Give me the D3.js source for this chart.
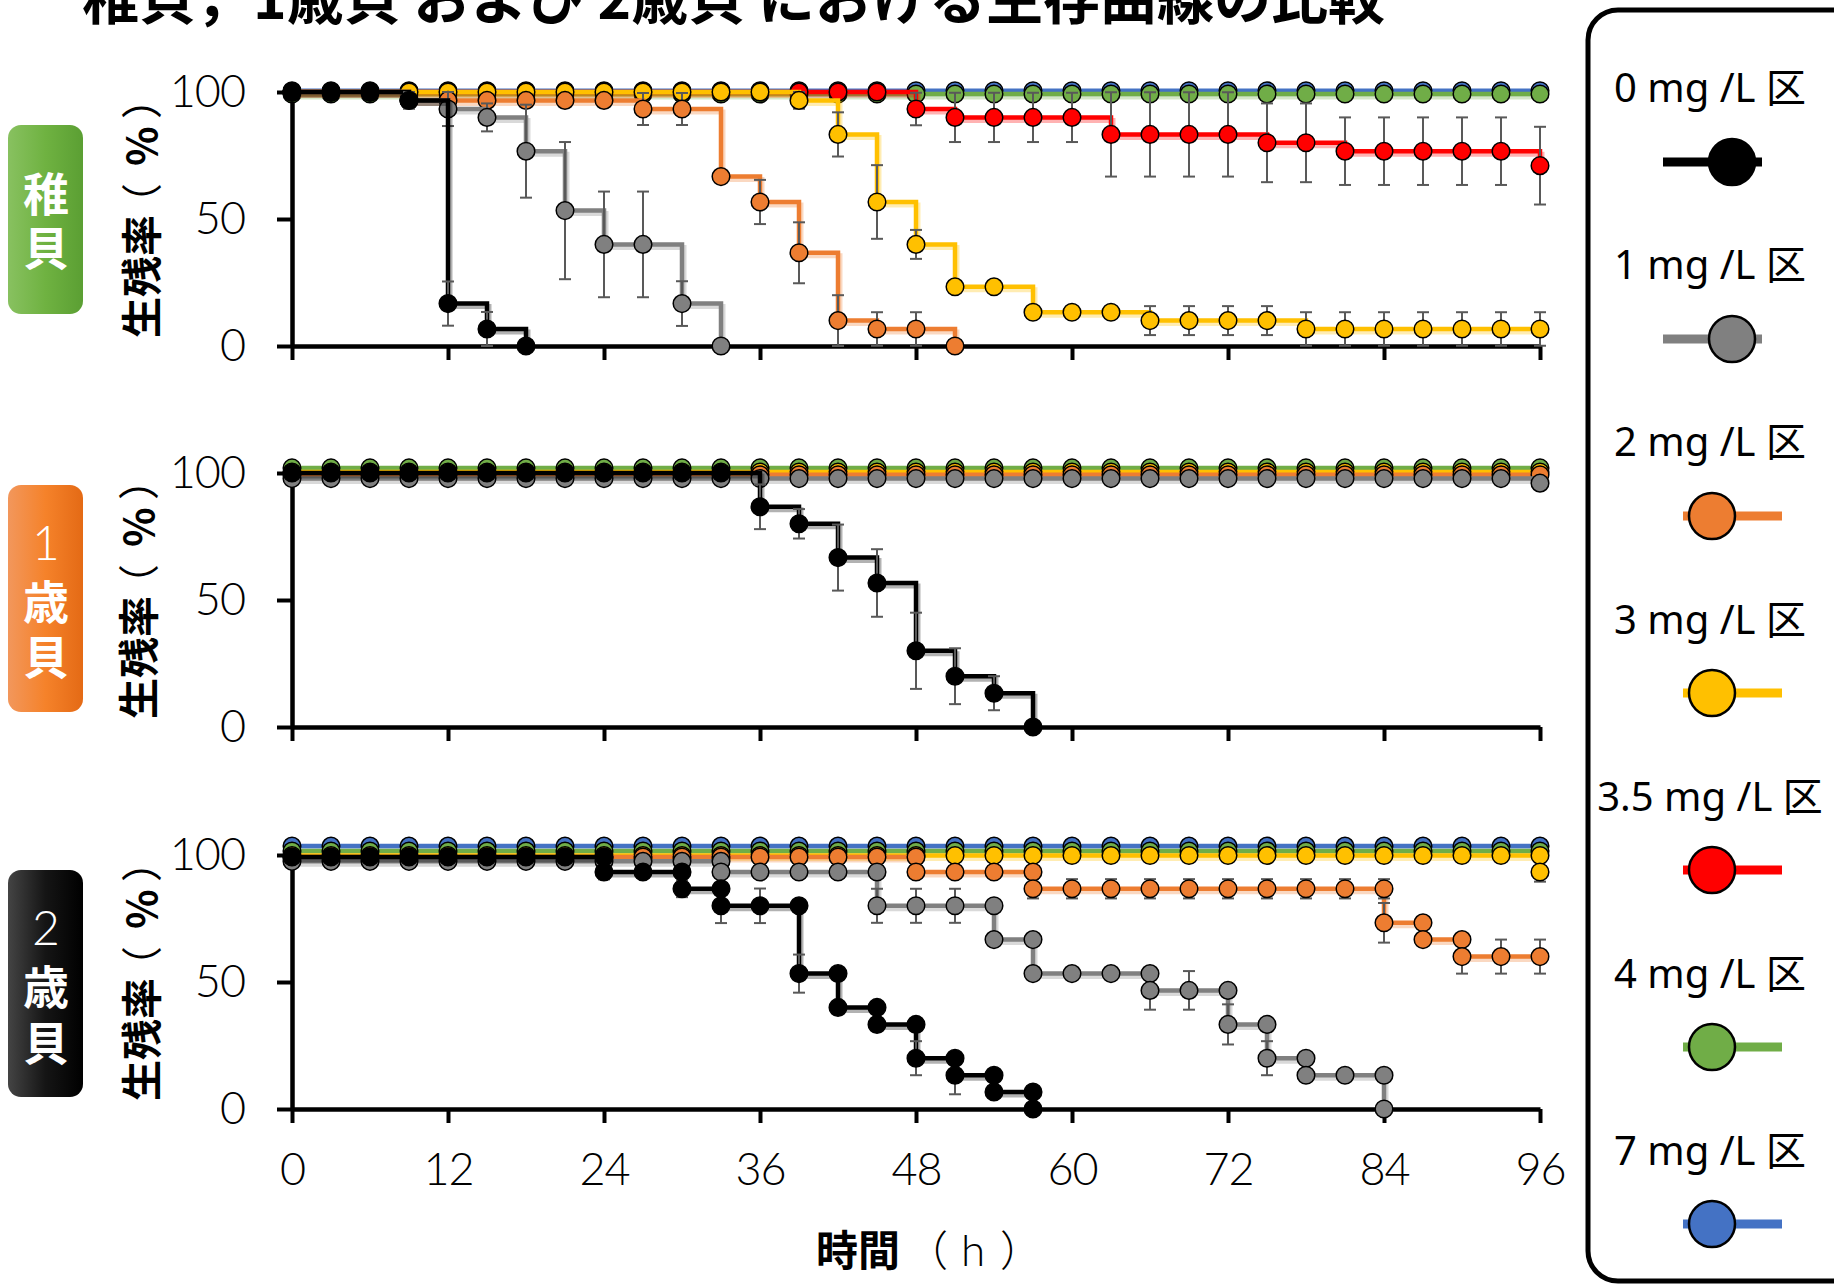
<!DOCTYPE html>
<html><head><meta charset="utf-8">
<script src="https://cdn.jsdelivr.net/npm/d3@7"></script>
<style>body{margin:0;background:#fff} svg{display:block}</style>
</head><body>
<svg id="c" width="1834" height="1286"></svg>
<script>
// ---------------- DATA ----------------
const TITLE = "稚貝，1歳貝 および 2歳貝 における生存曲線の比較";
const LEG_LABELS = ["0 mg /L 区","1 mg /L 区","2 mg /L 区","3 mg /L 区","3.5 mg /L 区","4 mg /L 区","7 mg /L 区"];
const COLORS = ["#000000","#808080","#ED7D31","#FFC000","#FF0000","#70AD47","#4472C4"];
const X_TICKS = [0,12,24,36,48,60,72,84,96];
const Y_TICKS = [0,50,100];
const PANEL_NUM = ["","1","2"];
const PANEL_WORD = ["稚貝","歳貝","歳貝"];
const TIME = [0,3,6,9,12,15,18,21,24,27,30,33,36,39,42,45,48,51,54,57,60,63,66,69,72,75,78,81,84,87,90,93,96];

// Panel 1: 稚貝
const juv_0mg_v = [100,100,100,96.7,16.7,6.7,0];
const juv_0mg_e = [0,0,0,3.3,8.7,6.7,0];
const juv_1mg_v = [100,100,100,96.7,93.3,90,76.7,53.3,40,40,16.7,0];
const juv_1mg_e = [0,0,0,0,6.7,5.5,18.3,27,20.8,20.8,8.8,0];
const juv_2mg_v = [100,100,100,96.7,96.7,96.7,96.7,96.7,96.7,93.3,93.3,66.7,56.7,36.7,10,6.7,6.7,0];
const juv_2mg_e = [0,0,0,0,0,0,0,0,0,6.3,6.3,0,8.7,12,10,6.6,6.6,0];
const juv_3mg_v = [100,100,100,100,100,100,100,100,100,100,100,100,100,96.7,83.3,56.7,40,23.3,23.3,13.3,13.3,13.3,10,10,10,10,6.7,6.7,6.7,6.7,6.7,6.7,6.7];
const juv_3mg_e = [0,0,0,0,0,0,0,0,0,0,0,0,0,3.3,8.7,14.5,5.7,0,0,0,0,0,5.7,5.7,5.7,5.7,6.6,6.6,6.6,6.6,6.6,6.6,6.6];
const juv_35mg_v = [100,100,100,100,100,100,100,100,100,100,100,100,100,100,100,100,93.3,90,90,90,90,83.3,83.3,83.3,83.3,80,80,76.7,76.7,76.7,76.7,76.7,71];
const juv_35mg_e = [0,0,0,0,0,0,0,0,0,0,0,0,0,0,0,0,6.4,9.7,9.7,9.7,9.7,16.6,16.6,16.6,16.6,15.5,15.5,13.3,13.3,13.3,13.3,13.3,15.3];
const juv_4mg_v = [99.2,99.2,99.2,99.2,99.2,99.2,99.2,99.2,99.2,99.2,99.2,99.2,99.2,99.2,99.2,99.2,99.2,99.2,99.2,99.2,99.2,99.2,99.2,99.2,99.2,99.2,99.2,99.2,99.2,99.2,99.2,99.2,99.2];
const juv_7mg_v = [100.5,100.5,100.5,100.5,100.5,100.5,100.5,100.5,100.5,100.5,100.5,100.5,100.5,100.5,100.5,100.5,100.5,100.5,100.5,100.5,100.5,100.5,100.5,100.5,100.5,100.5,100.5,100.5,100.5,100.5,100.5,100.5,100.5];

// Panel 2: 1歳貝
const y1_0mg_v = [100,100,100,100,100,100,100,100,100,100,100,100,86.7,80,66.7,56.7,30,20,13.3,0];
const y1_0mg_e = [0,0,0,0,0,0,0,0,0,0,0,0,8.8,5.8,13,13.3,15,11,6.7,0];
const y1_1mg_v = [97.8,97.8,97.8,97.8,97.8,97.8,97.8,97.8,97.8,97.8,97.8,97.8,97.8,97.8,97.8,97.8,97.8,97.8,97.8,97.8,97.8,97.8,97.8,97.8,97.8,97.8,97.8,97.8,97.8,97.8,97.8,97.8,96];
const y1_2mg_v = [99.3,99.3,99.3,99.3,99.3,99.3,99.3,99.3,99.3,99.3,99.3,99.3,99.3,99.3,99.3,99.3,99.3,99.3,99.3,99.3,99.3,99.3,99.3,99.3,99.3,99.3,99.3,99.3,99.3,99.3,99.3,99.3,99.3];
const y1_3mg_v = [100.4,100.4,100.4,100.4,100.4,100.4,100.4,100.4,100.4,100.4,100.4,100.4,100.4,100.4,100.4,100.4,100.4,100.4,100.4,100.4,100.4,100.4,100.4,100.4,100.4,100.4,100.4,100.4,100.4,100.4,100.4,100.4,100.4];
const y1_4mg_v = [102,102,102,102,102,102,102,102,102,102,102,102,102,102,102,102,102,102,102,102,102,102,102,102,102,102,102,102,102,102,102,102,102];

// Panel 3: 2歳貝 (duplicate times mark both ends of a drop)
const y2_0mg_t = [0,3,6,9,12,15,18,21,24,24,27,30,30,33,33,36,39,39,42,42,45,45,48,48,51,51,54,54,57,57];
const y2_0mg_v = [99.2,99.2,99.2,99.2,99.2,99.2,99.2,99.2,99.2,93.3,93.3,93.3,86.7,86.7,80,80,80,53.3,53.3,40,40,33.3,33.3,20,20,13.3,13.3,6.7,6.7,0];
const y2_0mg_e = [0,0,0,0,0,0,0,0,0,2.9,0,0,3.3,0,6.8,6.8,0,7.5,0,0,0,0,0,6.7,0,7.5,0,0,0,0];
const y2_1mg_t = [0,3,6,9,12,15,18,21,24,27,30,33,33,36,39,42,45,45,48,51,54,54,57,57,60,63,66,66,69,72,72,75,75,78,78,81,84,84];
const y2_1mg_v = [97.5,97.5,97.5,97.5,97.5,97.5,97.5,97.5,97.5,97.5,97.5,97.5,93.3,93.3,93.3,93.3,93.3,80,80,80,80,66.7,66.7,53.3,53.3,53.3,53.3,46.7,46.7,46.7,33.3,33.3,20,20,13.3,13.3,13.3,0];
const y2_1mg_e = [0,0,0,0,0,0,0,0,0,0,0,0,0,0,0,0,0,6.7,6.7,6.7,0,0,0,0,0,0,0,7.6,7.6,0,7.9,0,6.7,0,0,0,0,0];
const y2_2mg_t = [0,3,6,9,12,15,18,21,24,27,30,33,36,39,42,45,48,48,51,54,57,57,60,63,66,69,72,75,78,81,84,84,87,87,90,90,93,96];
const y2_2mg_v = [99.2,99.2,99.2,99.2,99.2,99.2,99.2,99.2,99.2,99.2,99.2,99.2,99.2,99.2,99.2,99.2,99.2,93.3,93.3,93.3,93.3,86.7,86.7,86.7,86.7,86.7,86.7,86.7,86.7,86.7,86.7,73.3,73.3,66.7,66.7,60,60,60];
const y2_2mg_e = [0,0,0,0,0,0,0,0,0,0,0,0,0,0,0,0,0,0,0,0,0,3.8,3.8,3.8,3.8,3.8,3.8,3.8,3.8,3.8,3.8,7.8,0,0,0,6.7,6.7,6.7];
const y2_3mg_t = [0,3,6,9,12,15,18,21,24,27,30,33,36,39,42,45,48,51,54,57,60,63,66,69,72,75,78,81,84,87,90,93,96,96];
const y2_3mg_v = [99.8,99.8,99.8,99.8,99.8,99.8,99.8,99.8,99.8,99.8,99.8,99.8,99.8,99.8,99.8,99.8,99.8,99.8,99.8,99.8,99.8,99.8,99.8,99.8,99.8,99.8,99.8,99.8,99.8,99.8,99.8,99.8,99.8,93.3];
const y2_3mg_e = [0,0,0,0,0,0,0,0,0,0,0,0,0,0,0,0,0,0,0,0,0,0,0,0,0,0,0,0,0,0,0,0,0,3.8];
const y2_4mg_v = [101.6,101.6,101.6,101.6,101.6,101.6,101.6,101.6,101.6,101.6,101.6,101.6,101.6,101.6,101.6,101.6,101.6,101.6,101.6,101.6,101.6,101.6,101.6,101.6,101.6,101.6,101.6,101.6,101.6,101.6,101.6,101.6,101.6];
const y2_7mg_v = [103.5,103.5,103.5,103.5,103.5,103.5,103.5,103.5,103.5,103.5,103.5,103.5,103.5,103.5,103.5,103.5,103.5,103.5,103.5,103.5,103.5,103.5,103.5,103.5,103.5,103.5,103.5,103.5,103.5,103.5,103.5,103.5,103.5];

// series: [colorIndex, times, values, errors]
const PANELS = [
  [[0,TIME,juv_0mg_v,juv_0mg_e],[1,TIME,juv_1mg_v,juv_1mg_e],[2,TIME,juv_2mg_v,juv_2mg_e],[3,TIME,juv_3mg_v,juv_3mg_e],[4,TIME,juv_35mg_v,juv_35mg_e],[5,TIME,juv_4mg_v,null],[6,TIME,juv_7mg_v,null]],
  [[0,TIME,y1_0mg_v,y1_0mg_e],[1,TIME,y1_1mg_v,null],[2,TIME,y1_2mg_v,null],[3,TIME,y1_3mg_v,null],[5,TIME,y1_4mg_v,null]],
  [[0,y2_0mg_t,y2_0mg_v,y2_0mg_e],[1,y2_1mg_t,y2_1mg_v,y2_1mg_e],[2,y2_2mg_t,y2_2mg_v,y2_2mg_e],[3,y2_3mg_t,y2_3mg_v,y2_3mg_e],[5,TIME,y2_4mg_v,null],[6,TIME,y2_7mg_v,null]]
];

// ---------------- LAYOUT ----------------
const svg = d3.select("#c");
const NUMFONT = "Lato, 'Liberation Sans', sans-serif";
const JPFONT = "'Noto Sans CJK JP', 'Noto Sans', sans-serif";
const x = d3.scaleLinear().domain([0,96]).range([292,1540]);
const PANEL_TOP = [92,473,855], PH = 254;

const defs = svg.append("defs");
const grads = [["g0",["#88c160","#6fb241","#5b9f33"]],["g1",["#f2975c","#f5822a","#e46a15"]],["g2",["#444444","#151515","#000000"]]];
grads.forEach(([id,cols])=>{
  const g = defs.append("linearGradient").attr("id",id).attr("x1","0").attr("x2","1").attr("y1","0").attr("y2","0");
  cols.forEach((c,i)=>g.append("stop").attr("offset",(i*50)+"%").attr("stop-color",c));
});

// Title (clipped at top)
svg.append("text").attr("x",82).attr("y",19).attr("font-family",JPFONT).attr("font-weight","bold")
  .attr("font-size",57).attr("fill","#000").text(TITLE);

const labelBoxes = [[125,314],[485,712],[870,1097]];
const numCenters = [0,541,926];
const wordCenters = [225,634,1020];
const wordSpacing = [8,9,10];

PANELS.forEach((series,pi)=>{
  const top = PANEL_TOP[pi];
  const y = d3.scaleLinear().domain([0,100]).range([top+PH, top]);
  const g = svg.append("g");

  // panel label
  const [b0,b1] = labelBoxes[pi];
  g.append("rect").attr("x",8).attr("y",b0).attr("width",75).attr("height",b1-b0).attr("rx",13)
    .attr("fill",`url(#g${pi})`);
  if (PANEL_NUM[pi]) {
    g.append("text").attr("x",46).attr("y",numCenters[pi]).attr("text-anchor","middle")
      .attr("dominant-baseline","central").attr("fill","#fff").attr("font-family",NUMFONT)
      .attr("font-weight","300").attr("font-size",48).text(PANEL_NUM[pi]);
  }
  g.append("text").attr("x",46).attr("y",wordCenters[pi]).attr("text-anchor","middle")
    .attr("writing-mode","vertical-rl").attr("letter-spacing",wordSpacing[pi]).attr("fill","#fff")
    .attr("font-family",JPFONT).attr("font-weight","bold").attr("font-size",46).text(PANEL_WORD[pi]);

  // y title (reads bottom -> top)
  const yt = g.append("text").attr("transform",`translate(${pi===1?136:139},${top+PH/2+119}) rotate(-90)`)
    .attr("dominant-baseline","central").attr("font-family",JPFONT).attr("font-size",41);
  yt.append("tspan").attr("x",0).attr("font-weight","bold").text("生残率");
  yt.append("tspan").attr("x",114).attr("font-weight","normal").text("（");
  yt.append("tspan").attr("x",172).attr("font-weight","bold").text("%");
  yt.append("tspan").attr("x",219).attr("font-weight","normal").text("）");

  // axes
  const ya = g.append("g").attr("transform","translate(292,0)")
    .call(d3.axisLeft(y).tickValues(Y_TICKS).tickSize(15).tickSizeOuter(0).tickPadding(32).tickFormat(d3.format("d")));
  const xa = g.append("g").attr("transform",`translate(0,${top+PH})`)
    .call(d3.axisBottom(x).tickValues(X_TICKS).tickSize(14).tickSizeOuter(0).tickPadding(30)
      .tickFormat(pi===2?d3.format("d"):()=>""));
  [ya,xa].forEach(a=>{
    a.select(".domain").attr("stroke","#000").attr("stroke-width",4.5);
    a.selectAll(".tick line").attr("stroke","#000").attr("stroke-width",4);
    a.selectAll(".tick text").attr("font-family",NUMFONT).attr("font-weight","300").attr("font-size",45)
      .attr("letter-spacing",-1).attr("fill","#000");
  });

  // series, drawn from highest concentration to 0 mg/L (0 on top)
  const line = d3.line().x(d=>x(d.t)).y(d=>y(d.v)).curve(d3.curveStepAfter);
  series.slice().sort((a,b)=>b[0]-a[0]).forEach(([ci,ts,vs,es])=>{
    const pts = vs.map((v,i)=>({t:ts[i], v:v, e: es?es[i]:0}));
    const col = COLORS[ci];
    const sg = g.append("g");
    sg.append("path").datum(pts).attr("d",line).attr("fill","none").attr("stroke",col)
      .attr("stroke-opacity",0.3).attr("stroke-width",5).attr("transform","translate(2,3)");
    sg.append("path").datum(pts).attr("d",line).attr("fill","none").attr("stroke",col)
      .attr("stroke-width",4.5).attr("stroke-linejoin","miter");
    const eb = sg.append("g").attr("stroke","#595959").attr("stroke-width",2);
    pts.filter(d=>d.e>0).forEach(d=>{
      const cx = x(d.t), y1 = y(Math.min(d.v+d.e,100.5)), y2 = y(Math.max(d.v-d.e,0));
      eb.append("line").attr("x1",cx).attr("x2",cx).attr("y1",y1).attr("y2",y2);
      eb.append("line").attr("x1",cx-6).attr("x2",cx+6).attr("y1",y1).attr("y2",y1);
      eb.append("line").attr("x1",cx-6).attr("x2",cx+6).attr("y1",y2).attr("y2",y2);
    });
    sg.selectAll("circle").data(pts).join("circle").attr("cx",d=>x(d.t)).attr("cy",d=>y(d.v))
      .attr("r",8.8).attr("fill",col).attr("stroke","#000").attr("stroke-width",1.5);
  });
});

// x title
const xt = svg.append("text").attr("y",1266).attr("font-size",42);
xt.append("tspan").attr("x",816).attr("font-family",JPFONT).attr("font-weight","bold").text("時間");
xt.append("tspan").attr("x",906).attr("font-family",JPFONT).attr("font-weight","300").text("（");
xt.append("tspan").attr("x",961).attr("font-family",NUMFONT).attr("font-weight","300").attr("font-size",44).text("h");
xt.append("tspan").attr("x",1000).attr("font-family",JPFONT).attr("font-weight","300").text("）");

// legend
svg.append("rect").attr("x",1588).attr("y",10).attr("width",280).attr("height",1271).attr("rx",30)
  .attr("fill","#fff").attr("stroke","#000").attr("stroke-width",5);
LEG_LABELS.forEach((lab,i)=>{
  const base = 102 + i*177.2, my = 162 + i*177;
  svg.append("text").attr("x",1710).attr("y",base).attr("text-anchor","middle")
    .attr("font-family","'Noto Sans', 'Noto Sans CJK JP', sans-serif").attr("font-size",40).text(lab);
  const right = i<2;
  const lx1 = right?1663:1683, lx2 = right?1762:1782, cx = right?1732:1712;
  svg.append("line").attr("x1",lx1).attr("x2",lx2).attr("y1",my).attr("y2",my)
    .attr("stroke",COLORS[i]).attr("stroke-width",9);
  svg.append("circle").attr("cx",cx).attr("cy",my).attr("r",23).attr("fill",COLORS[i])
    .attr("stroke","#000").attr("stroke-width",2.5);
});
</script>
</body></html>
